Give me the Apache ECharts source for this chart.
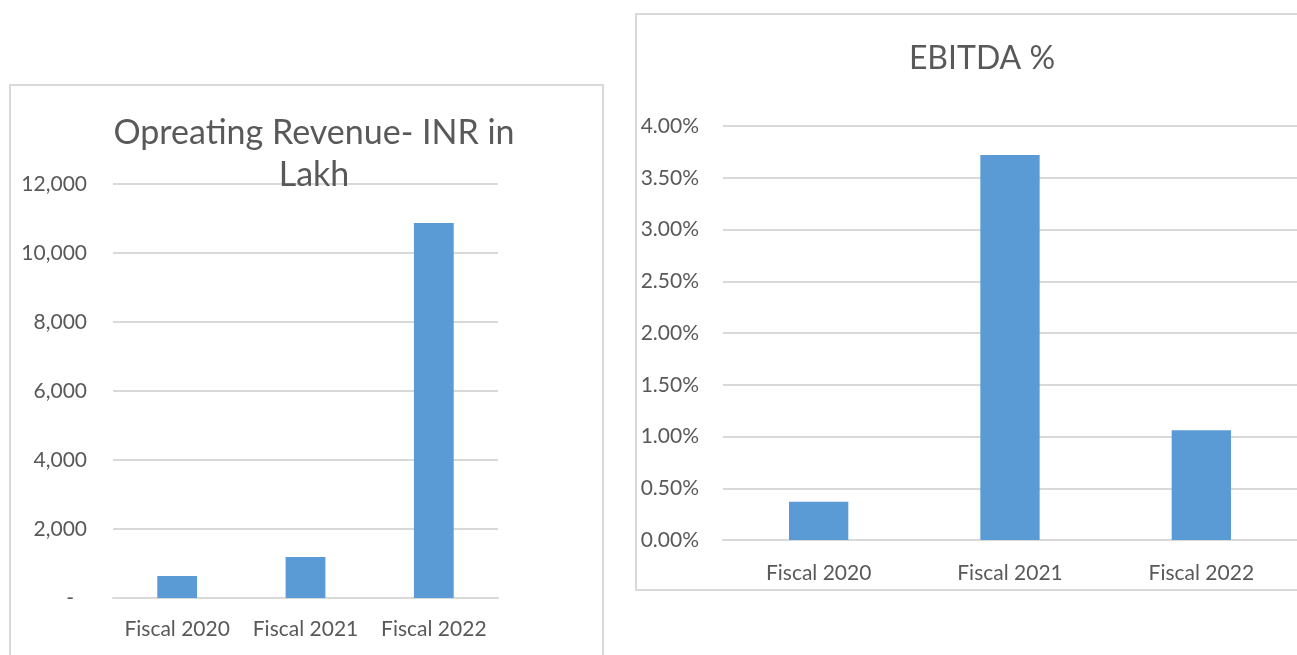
<!DOCTYPE html>
<html>
<head>
<meta charset="utf-8">
<script src="https://cdn.jsdelivr.net/npm/echarts@6/dist/echarts.min.js"></script>
<style>
  html, body { margin: 0; padding: 0; background: #ffffff; }
  #chart { width: 1297px; height: 655px; }
</style>
</head>
<body>
<div id="chart"></div>
<script>
// Fiscal years shown on both charts
const categories = ['Fiscal 2020', 'Fiscal 2021', 'Fiscal 2022'];
// Operating revenue, INR in lakh
const revenue = [640, 1190, 10870];
// EBITDA margin, percent
const ebitdaPct = [0.37, 3.72, 1.06];
// Axis ranges
const revenueMax = 12000, revenueStep = 2000;
const ebitdaMax = 4, ebitdaStep = 0.5;

const FONT = 'Lato, "Open Sans", sans-serif';
const TEXT = '#595959';
const GRID = '#d9d9d9';
const BAR = '#5b9bd5';

const chart = echarts.init(document.getElementById('chart'));

const catAxis = (gi, margin) => ({
  type: 'category', gridIndex: gi, data: categories,
  axisLine: { show: true, lineStyle: { color: GRID, width: 2 } },
  axisTick: { show: false },
  axisLabel: { color: TEXT, fontFamily: FONT, fontSize: 21, margin: margin,
    interval: 0, hideOverlap: false }
});

chart.setOption({
  animation: false,
  graphic: [
    { type: 'rect', shape: { x: 10, y: 85, width: 593, height: 600 },
      style: { fill: 'none', stroke: GRID, lineWidth: 2 }, z: -1 },
    { type: 'rect', shape: { x: 636, y: 14, width: 700, height: 576 },
      style: { fill: 'none', stroke: GRID, lineWidth: 2 }, z: -1 }
  ],
  title: [
    { text: 'Opreating Revenue- INR in\nLakh', left: 309, top: 107, textAlign: 'center',
      textStyle: { color: TEXT, fontFamily: FONT, fontSize: 34, fontWeight: 'normal', lineHeight: 42, align: 'center' } },
    { text: 'EBITDA %', left: 977, top: 38, textAlign: 'center',
      textStyle: { color: TEXT, fontFamily: FONT, fontSize: 32, fontWeight: 'normal' } }
  ],
  grid: [
    { left: 113, top: 184, width: 385, height: 414 },
    { left: 723, top: 126, width: 582, height: 414 }
  ],
  xAxis: [catAxis(0, 21), catAxis(1, 23)],
  yAxis: [
    { type: 'value', gridIndex: 0, min: 0, max: revenueMax, interval: revenueStep,
      axisLine: { show: false }, axisTick: { show: false },
      splitLine: { lineStyle: { color: GRID, width: 2 } },
      axisLabel: {
        color: TEXT, fontFamily: FONT, fontSize: 21, margin: 26,
        formatter: v => v === 0 ? '{d|-}' : v.toLocaleString('en-US'),
        rich: { d: { color: TEXT, fontFamily: FONT, fontSize: 21, padding: [0, 13, 0, 0] } }
      } },
    { type: 'value', gridIndex: 1, min: 0, max: ebitdaMax, interval: ebitdaStep,
      axisLine: { show: false }, axisTick: { show: false },
      splitLine: { lineStyle: { color: GRID, width: 2 } },
      axisLabel: { color: TEXT, fontFamily: FONT, fontSize: 21, margin: 24,
        formatter: v => v.toFixed(2) + '%' } }
  ],
  series: [
    { type: 'bar', xAxisIndex: 0, yAxisIndex: 0, data: revenue, barWidth: '31%',
      itemStyle: { color: BAR } },
    { type: 'bar', xAxisIndex: 1, yAxisIndex: 1, data: ebitdaPct, barWidth: '31%',
      itemStyle: { color: BAR } }
  ]
});
</script>
</body>
</html>
